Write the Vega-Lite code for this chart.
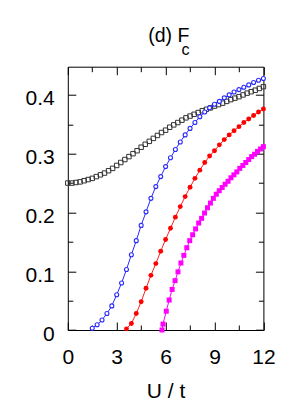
{
  "$schema": "https://vega.github.io/schema/vega-lite/v6.json",
  "width": 195.6,
  "height": 263.3,
  "autosize": {"type": "none"},
  "padding": {"left": 67.8, "top": 66.7, "right": 36.6, "bottom": 70},
  "background": "white",
  "config": {
    "view": {"stroke": "black", "strokeWidth": 1},
    "font": "Liberation Sans"
  },
  "title": {
    "text": "(d) F\u00a0\u00a0",
    "subtitle": "c",
    "anchor": "middle",
    "align": "right",
    "dx": 23.8,
    "fontSize": 19.5,
    "subtitleFontSize": 16,
    "font": "Liberation Sans",
    "subtitleFont": "Liberation Sans",
    "fontWeight": "normal",
    "color": "black",
    "subtitleColor": "black",
    "subtitlePadding": -4,
    "offset": 7
  },
  "data": {
    "values": [
      {"s": "A", "U": 0.00, "F": 0.250}, {"s": "A", "U": 0.25, "F": 0.250}, {"s": "A", "U": 0.50, "F": 0.251}, {"s": "A", "U": 0.75, "F": 0.252},
      {"s": "A", "U": 1.00, "F": 0.254}, {"s": "A", "U": 1.25, "F": 0.256}, {"s": "A", "U": 1.50, "F": 0.258}, {"s": "A", "U": 1.75, "F": 0.261},
      {"s": "A", "U": 2.00, "F": 0.264}, {"s": "A", "U": 2.25, "F": 0.267}, {"s": "A", "U": 2.50, "F": 0.271}, {"s": "A", "U": 2.75, "F": 0.275},
      {"s": "A", "U": 3.00, "F": 0.280}, {"s": "A", "U": 3.25, "F": 0.285}, {"s": "A", "U": 3.50, "F": 0.290}, {"s": "A", "U": 3.75, "F": 0.295},
      {"s": "A", "U": 4.00, "F": 0.300}, {"s": "A", "U": 4.25, "F": 0.305}, {"s": "A", "U": 4.50, "F": 0.311}, {"s": "A", "U": 4.75, "F": 0.316},
      {"s": "A", "U": 5.00, "F": 0.321}, {"s": "A", "U": 5.25, "F": 0.326}, {"s": "A", "U": 5.50, "F": 0.331}, {"s": "A", "U": 5.75, "F": 0.336},
      {"s": "A", "U": 6.00, "F": 0.340}, {"s": "A", "U": 6.25, "F": 0.345}, {"s": "A", "U": 6.50, "F": 0.349}, {"s": "A", "U": 6.75, "F": 0.353},
      {"s": "A", "U": 7.00, "F": 0.357}, {"s": "A", "U": 7.25, "F": 0.361}, {"s": "A", "U": 7.50, "F": 0.364}, {"s": "A", "U": 7.75, "F": 0.367},
      {"s": "A", "U": 8.00, "F": 0.370}, {"s": "A", "U": 8.25, "F": 0.373}, {"s": "A", "U": 8.50, "F": 0.3755}, {"s": "A", "U": 8.75, "F": 0.378},
      {"s": "A", "U": 9.00, "F": 0.381}, {"s": "A", "U": 9.25, "F": 0.3835}, {"s": "A", "U": 9.50, "F": 0.386}, {"s": "A", "U": 9.75, "F": 0.389},
      {"s": "A", "U": 10.00, "F": 0.392}, {"s": "A", "U": 10.25, "F": 0.3945}, {"s": "A", "U": 10.50, "F": 0.397}, {"s": "A", "U": 10.75, "F": 0.400},
      {"s": "A", "U": 11.00, "F": 0.403}, {"s": "A", "U": 11.25, "F": 0.4055}, {"s": "A", "U": 11.50, "F": 0.408}, {"s": "A", "U": 11.75, "F": 0.411},
      {"s": "A", "U": 12.00, "F": 0.414},

      {"s": "B", "U": 1.5, "F": 0.003}, {"s": "B", "U": 1.8, "F": 0.009}, {"s": "B", "U": 2.1, "F": 0.017}, {"s": "B", "U": 2.4, "F": 0.028},
      {"s": "B", "U": 2.7, "F": 0.041}, {"s": "B", "U": 3.0, "F": 0.060}, {"s": "B", "U": 3.3, "F": 0.080}, {"s": "B", "U": 3.6, "F": 0.103},
      {"s": "B", "U": 3.9, "F": 0.128}, {"s": "B", "U": 4.2, "F": 0.152}, {"s": "B", "U": 4.5, "F": 0.178}, {"s": "B", "U": 4.8, "F": 0.201},
      {"s": "B", "U": 5.1, "F": 0.224}, {"s": "B", "U": 5.4, "F": 0.244}, {"s": "B", "U": 5.7, "F": 0.261}, {"s": "B", "U": 6.0, "F": 0.278},
      {"s": "B", "U": 6.3, "F": 0.293}, {"s": "B", "U": 6.6, "F": 0.307}, {"s": "B", "U": 6.9, "F": 0.320}, {"s": "B", "U": 7.2, "F": 0.332},
      {"s": "B", "U": 7.5, "F": 0.343}, {"s": "B", "U": 7.8, "F": 0.353}, {"s": "B", "U": 8.1, "F": 0.363}, {"s": "B", "U": 8.4, "F": 0.371},
      {"s": "B", "U": 8.7, "F": 0.378}, {"s": "B", "U": 9.0, "F": 0.384}, {"s": "B", "U": 9.3, "F": 0.389}, {"s": "B", "U": 9.6, "F": 0.395},
      {"s": "B", "U": 9.9, "F": 0.400}, {"s": "B", "U": 10.2, "F": 0.405}, {"s": "B", "U": 10.5, "F": 0.409}, {"s": "B", "U": 10.8, "F": 0.413},
      {"s": "B", "U": 11.1, "F": 0.417}, {"s": "B", "U": 11.4, "F": 0.421}, {"s": "B", "U": 11.7, "F": 0.425}, {"s": "B", "U": 12.0, "F": 0.428},

      {"s": "C", "U": 3.6, "F": 0.002}, {"s": "C", "U": 3.9, "F": 0.011}, {"s": "C", "U": 4.2, "F": 0.028}, {"s": "C", "U": 4.5, "F": 0.048},
      {"s": "C", "U": 4.8, "F": 0.071}, {"s": "C", "U": 5.1, "F": 0.093}, {"s": "C", "U": 5.4, "F": 0.113}, {"s": "C", "U": 5.7, "F": 0.134},
      {"s": "C", "U": 6.0, "F": 0.154}, {"s": "C", "U": 6.3, "F": 0.173}, {"s": "C", "U": 6.6, "F": 0.192}, {"s": "C", "U": 6.9, "F": 0.210},
      {"s": "C", "U": 7.2, "F": 0.227}, {"s": "C", "U": 7.5, "F": 0.243}, {"s": "C", "U": 7.8, "F": 0.258}, {"s": "C", "U": 8.1, "F": 0.272},
      {"s": "C", "U": 8.4, "F": 0.285}, {"s": "C", "U": 8.7, "F": 0.296}, {"s": "C", "U": 9.0, "F": 0.305}, {"s": "C", "U": 9.3, "F": 0.315},
      {"s": "C", "U": 9.6, "F": 0.324}, {"s": "C", "U": 9.9, "F": 0.332}, {"s": "C", "U": 10.2, "F": 0.339}, {"s": "C", "U": 10.5, "F": 0.346},
      {"s": "C", "U": 10.8, "F": 0.353}, {"s": "C", "U": 11.1, "F": 0.359}, {"s": "C", "U": 11.4, "F": 0.365}, {"s": "C", "U": 11.7, "F": 0.371},
      {"s": "C", "U": 12.0, "F": 0.376},

      {"s": "D", "U": 5.78, "F": 0.000}, {"s": "D", "U": 5.84, "F": 0.010}, {"s": "D", "U": 6.04, "F": 0.032}, {"s": "D", "U": 6.22, "F": 0.051},
      {"s": "D", "U": 6.40, "F": 0.069}, {"s": "D", "U": 6.58, "F": 0.084}, {"s": "D", "U": 6.76, "F": 0.099}, {"s": "D", "U": 6.94, "F": 0.114},
      {"s": "D", "U": 7.12, "F": 0.127}, {"s": "D", "U": 7.30, "F": 0.140}, {"s": "D", "U": 7.48, "F": 0.152}, {"s": "D", "U": 7.66, "F": 0.162},
      {"s": "D", "U": 7.84, "F": 0.172}, {"s": "D", "U": 8.03, "F": 0.182}, {"s": "D", "U": 8.21, "F": 0.190}, {"s": "D", "U": 8.39, "F": 0.199},
      {"s": "D", "U": 8.57, "F": 0.208}, {"s": "D", "U": 8.75, "F": 0.216}, {"s": "D", "U": 8.93, "F": 0.224}, {"s": "D", "U": 9.11, "F": 0.231},
      {"s": "D", "U": 9.29, "F": 0.237}, {"s": "D", "U": 9.47, "F": 0.2425}, {"s": "D", "U": 9.65, "F": 0.248}, {"s": "D", "U": 9.83, "F": 0.253},
      {"s": "D", "U": 10.01, "F": 0.259}, {"s": "D", "U": 10.19, "F": 0.264}, {"s": "D", "U": 10.37, "F": 0.269}, {"s": "D", "U": 10.55, "F": 0.275},
      {"s": "D", "U": 10.74, "F": 0.280}, {"s": "D", "U": 10.92, "F": 0.285}, {"s": "D", "U": 11.10, "F": 0.290}, {"s": "D", "U": 11.28, "F": 0.295},
      {"s": "D", "U": 11.46, "F": 0.299}, {"s": "D", "U": 11.64, "F": 0.304}, {"s": "D", "U": 11.82, "F": 0.308}, {"s": "D", "U": 12.00, "F": 0.312}
    ]
  },
  "layer": [
    {
      "transform": [{"filter": "datum.s == 'A'"}],
      "mark": {"type": "point", "shape": "square", "filled": false, "stroke": "#333333", "strokeWidth": 1, "size": 20, "opacity": 1, "clip": false},
      "encoding": {
        "x": {
          "field": "U", "type": "quantitative",
          "scale": {"domain": [0, 12], "nice": false, "zero": false},
          "axis": {
            "orient": "bottom",
            "values": [0, 1.5, 3, 4.5, 6, 7.5, 9, 10.5, 12],
            "labelExpr": "datum.value % 3 == 0 ? datum.label : ''",
            "domain": false, "grid": false,
            "tickSize": {"condition": {"test": "datum.value % 3 == 0", "value": -8}, "value": -5},
            "tickColor": "black", "tickWidth": 1,
            "labelPadding": 24, "labelFontSize": 21, "labelColor": "black", "labelFont": "Liberation Sans",
            "labelOverlap": false, "labelFlush": false, "labelBound": false,
            "title": "U / t", "titleFontSize": 21, "titleFontWeight": "normal", "titleColor": "black", "titleFont": "Liberation Sans",
            "titlePadding": 10
          }
        },
        "y": {
          "field": "F", "type": "quantitative",
          "scale": {"domain": [0, 0.448], "nice": false},
          "axis": {
            "orient": "left",
            "values": [0, 0.05, 0.1, 0.15, 0.2, 0.25, 0.3, 0.35, 0.4],
            "labelExpr": "datum.value == 0 ? '0' : (round(datum.value * 100) % 10 == 0 ? format(datum.value, '.1f') : '')",
            "domain": false, "grid": false,
            "tickSize": {"condition": {"test": "round(datum.value * 100) % 10 == 0", "value": -8}, "value": -5},
            "tickColor": "black", "tickWidth": 1,
            "labelPadding": 21.5, "labelFontSize": 21, "labelColor": "black", "labelFont": "Liberation Sans",
            "labelOverlap": false, "labelFlush": false, "labelBound": false, "labelOffset": 4,
            "title": null
          }
        }
      }
    },
    {
      "transform": [{"filter": "datum.s == 'B'"}],
      "mark": {"type": "line", "color": "#2a2aff", "strokeWidth": 1, "clip": false},
      "encoding": {
        "x": {
          "field": "U", "type": "quantitative",
          "axis": {"orient": "top", "values": [0, 1.5, 3, 4.5, 6, 7.5, 9, 10.5, 12], "labels": false, "domain": false, "grid": false,
                   "tickSize": {"condition": {"test": "datum.value % 3 == 0", "value": -8}, "value": -5},
                   "tickColor": "black", "tickWidth": 1, "title": null}
        },
        "y": {
          "field": "F", "type": "quantitative",
          "axis": {"orient": "right", "values": [0, 0.05, 0.1, 0.15, 0.2, 0.25, 0.3, 0.35, 0.4], "labels": false, "domain": false, "grid": false,
                   "tickSize": {"condition": {"test": "round(datum.value * 100) % 10 == 0", "value": -8}, "value": -5},
                   "tickColor": "black", "tickWidth": 1, "title": null}
        }
      }
    },
    {
      "transform": [{"filter": "datum.s == 'B'"}],
      "mark": {"type": "point", "shape": "circle", "filled": false, "stroke": "#2a2aff", "fill": "white", "strokeWidth": 1.1, "size": 16, "opacity": 1, "fillOpacity": 1, "clip": false},
      "encoding": {
        "x": {"field": "U", "type": "quantitative", "axis": null},
        "y": {"field": "F", "type": "quantitative", "axis": null}
      }
    },
    {
      "transform": [{"filter": "datum.s == 'C'"}],
      "mark": {"type": "line", "color": "#ff2020", "strokeWidth": 1, "clip": false},
      "encoding": {
        "x": {"field": "U", "type": "quantitative", "axis": null},
        "y": {"field": "F", "type": "quantitative", "axis": null}
      }
    },
    {
      "transform": [{"filter": "datum.s == 'C'"}],
      "mark": {"type": "point", "shape": "circle", "filled": true, "fill": "#ff0000", "strokeWidth": 0, "size": 24, "opacity": 1, "clip": false},
      "encoding": {
        "x": {"field": "U", "type": "quantitative", "axis": null},
        "y": {"field": "F", "type": "quantitative", "axis": null}
      }
    },
    {
      "transform": [{"filter": "datum.s == 'D'"}],
      "mark": {"type": "line", "color": "#ff00ff", "strokeWidth": 1, "clip": false},
      "encoding": {
        "x": {"field": "U", "type": "quantitative", "axis": null},
        "y": {"field": "F", "type": "quantitative", "axis": null}
      }
    },
    {
      "transform": [{"filter": "datum.s == 'D'"}],
      "mark": {"type": "point", "shape": "square", "filled": true, "fill": "#ff00ff", "strokeWidth": 0, "size": 25, "opacity": 1, "clip": false},
      "encoding": {
        "x": {"field": "U", "type": "quantitative", "axis": null},
        "y": {"field": "F", "type": "quantitative", "axis": null}
      }
    }
  ],
  "resolve": {"axis": {"x": "independent", "y": "independent"}}
}
